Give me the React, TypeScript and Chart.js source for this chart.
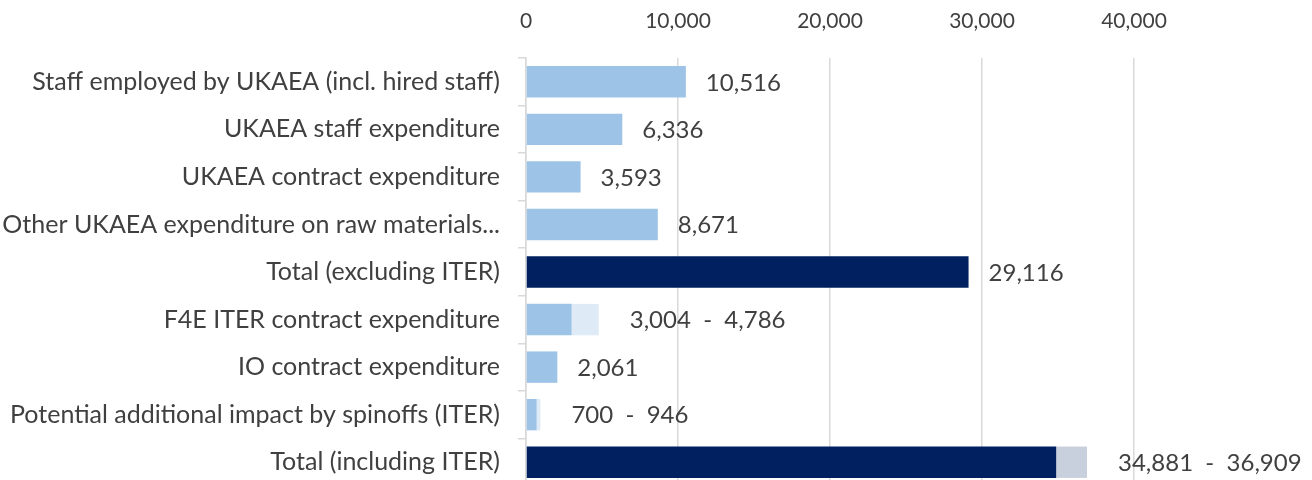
import React, { useEffect, useRef } from "react";
import { Chart, registerables } from "chart.js";

Chart.register(...registerables);

const categories = [
  "Staff employed by UKAEA (incl. hired staff)",
  "UKAEA staff expenditure",
  "UKAEA contract expenditure",
  "Other UKAEA expenditure on raw materials...",
  "Total (excluding ITER)",
  "F4E ITER contract expenditure",
  "IO contract expenditure",
  "Potential additional impact by spinoffs (ITER)",
  "Total (including ITER)",
];

const lowValues = [10516, 6336, 3593, 8671, 29116, 3004, 2061, 700, 34881];
const highValues: (number | null)[] = [null, null, null, null, null, 4786, null, 946, 36909];
const isTotal = [false, false, false, false, true, false, false, false, true];

const xTicks = [0, 10000, 20000, 30000, 40000];

const FONT = "Lato, 'Open Sans', sans-serif";
const TEXT = "#404040";

const fmt = (v: number) => v.toLocaleString("en-US");

export default function App() {
  const ref = useRef<HTMLCanvasElement | null>(null);

  useEffect(() => {
    document.body.style.margin = "0";
    const canvas = ref.current!;
    const extra = highValues.map((h, i) => (h == null ? null : h - lowValues[i]));

    const labelPlugin = {
      id: "rangeLabels",
      afterDatasetsDraw(chart: any) {
        const ctx = chart.ctx;
        const xs = chart.scales.x;
        const meta = chart.getDatasetMeta(0);
        ctx.save();
        ctx.font = `24px ${FONT}`;
        ctx.fillStyle = TEXT;
        ctx.textAlign = "left";
        ctx.textBaseline = "middle";
        lowValues.forEach((lo, i) => {
          const hi = highValues[i];
          const end = hi == null ? lo : hi;
          const y = meta.data[i].y;
          const x = xs.getPixelForValue(end) + (hi == null ? 20 : 31);
          const txt = hi == null ? fmt(lo) : `${fmt(lo)}  -  ${fmt(hi)}`;
          ctx.fillText(txt, x, y + 1);
        });
        ctx.restore();
      },
    };

    const chart = new Chart(canvas, {
      type: "bar",
      data: {
        labels: categories,
        datasets: [
          {
            data: lowValues,
            backgroundColor: isTotal.map((t) => (t ? "#002060" : "#9DC3E6")),
            barPercentage: 0.66,
            categoryPercentage: 1,
          },
          {
            data: extra,
            backgroundColor: isTotal.map((t) => (t ? "#C8D0DD" : "#DEEBF7")),
            barPercentage: 0.66,
            categoryPercentage: 1,
          },
        ],
      },
      options: {
        indexAxis: "y",
        responsive: false,
        animation: false,
        layout: { padding: { left: 0, right: 178, top: 0, bottom: 0 } },
        plugins: {
          legend: { display: false },
          tooltip: { enabled: false },
        },
        scales: {
          x: {
            type: "linear",
            position: "top",
            stacked: true,
            min: 0,
            max: 40000,
            afterBuildTicks: (s: any) => {
              s.ticks = xTicks.map((v) => ({ value: v }));
            },
            afterFit: (s: any) => {
              s.height = 58;
              s.paddingLeft = 0;
              s.paddingRight = 0;
            },
            grid: { color: "#D9D9D9", lineWidth: 1.5, drawTicks: false },
            border: { display: false },
            ticks: {
              font: { family: FONT, size: 21 },
              color: TEXT,
              padding: 24,
              callback: (v: any) => fmt(Number(v)),
            },
          },
          y: {
            stacked: true,
            afterFit: (s: any) => {
              s.width = 526;
              s.paddingTop = 0;
              s.paddingBottom = 0;
            },
            grid: {
              drawOnChartArea: false,
              drawTicks: true,
              tickLength: 8,
              color: "#D9D9D9",
              lineWidth: 1.5,
            },
            border: { display: true, color: "#D9D9D9", width: 1.5 },
            ticks: {
              font: { family: FONT, size: 25 },
              color: TEXT,
              padding: 18,
            },
          },
        },
      },
      plugins: [labelPlugin],
    });
    return () => chart.destroy();
  }, []);

  return <canvas ref={ref} width={1312} height={486} style={{ display: "block" }} />;
}
